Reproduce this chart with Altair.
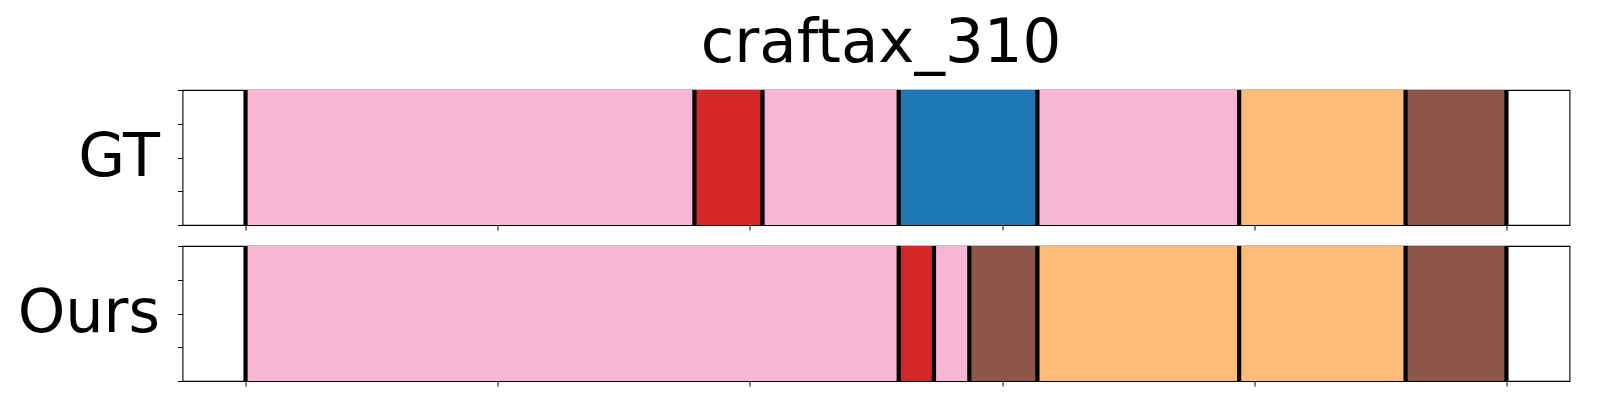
import altair as alt
import pandas as pd

# ---- data (frame indices of segment boundaries) ----
gt_starts = [0, 178, 205, 259, 314, 394, 460]
gt_ends = [178, 205, 259, 314, 394, 460, 500]
gt_labels = ["pink", "red", "pink", "blue", "pink", "orange", "brown"]

ours_starts = [0, 259, 273, 287, 314, 394, 460]
ours_ends = [259, 273, 287, 314, 394, 460, 500]
ours_labels = ["pink", "red", "pink", "brown", "orange", "orange", "brown"]

class_names = ["pink", "red", "blue", "orange", "brown"]
class_colors = ["#f7b6d2", "#d62728", "#1f77b4", "#ffbb78", "#8c564b"]

x_ticks = [0, 100, 200, 300, 400, 500]
y_ticks = [0, 0.25, 0.5, 0.75, 1]
title_text = "craftax_310"

FONT = "DejaVu Sans"
W, H = 1387, 135


def panel(name, starts, ends, labels, title=None):
    seg = pd.DataFrame({"start": starts, "end": ends, "label": labels,
                        "y0": [0] * len(starts), "y1": [1] * len(starts)})
    bnd = pd.DataFrame({"b": sorted(set(starts) | set(ends))})
    xs = alt.Scale(domain=[-25, 525], nice=False, zero=False)
    xaxis = alt.Axis(values=x_ticks, labels=False, tickSize=5, tickColor="black",
                     tickWidth=1, domain=False, grid=False, title=None)
    yaxis = alt.Axis(values=y_ticks, labels=False, tickSize=5, tickColor="black",
                     tickWidth=1, domain=False, grid=False, title=name,
                     titleAngle=0, titleAlign="right", titleBaseline="alphabetic",
                     titleX=-23, titleY=85, titleFontSize=60.5,
                     titleFontWeight="normal", titleFont=FONT, titleColor="black")
    rect = alt.Chart(seg).mark_rect(strokeWidth=0).encode(
        x=alt.X("start:Q", scale=xs, axis=xaxis),
        x2="end:Q",
        y=alt.Y("y0:Q", scale=alt.Scale(domain=[0, 1], nice=False), axis=yaxis),
        y2="y1:Q",
        color=alt.Color("label:N", scale=alt.Scale(domain=class_names, range=class_colors),
                        legend=None),
    )
    rules = alt.Chart(bnd).mark_rule(color="black", strokeWidth=4.2).encode(
        x=alt.X("b:Q", scale=xs, axis=xaxis)
    )
    layer = alt.layer(rect, rules).properties(width=W, height=H)
    if title is not None:
        layer = layer.properties(title=title)
    return layer


main_title = alt.Title(title_text, fontSize=61, font=FONT, fontWeight="normal",
                       anchor="middle", frame="group", baseline="alphabetic",
                       offset=-35, dx=5, color="black")

chart = alt.vconcat(
    panel("GT", gt_starts, gt_ends, gt_labels, title=main_title),
    panel("Ours", ours_starts, ours_ends, ours_labels),
    spacing=11,
).properties(
    padding={"left": 8.5, "top": 4, "right": 5, "bottom": 5},
).configure_view(stroke="black", strokeWidth=1.1)

chart.save("out.html", embed_options={"renderer": "svg", "actions": False})
